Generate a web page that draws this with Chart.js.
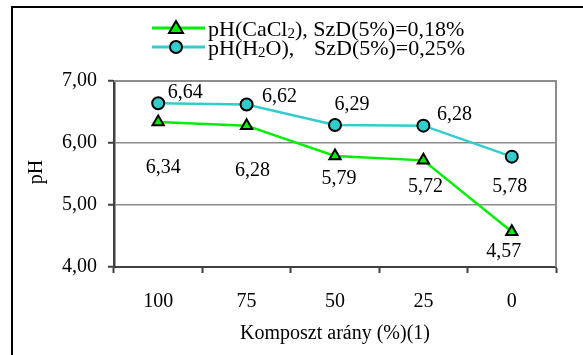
<!DOCTYPE html>
<html>
<head>
<meta charset="utf-8">
<script src="https://cdn.jsdelivr.net/npm/chart.js@4.4.1/dist/chart.umd.min.js"></script>
<style>
    html, body { margin: 0; padding: 0; background: #ffffff; }
    #wrap { width: 583px; height: 355px; position: relative; }
</style>
</head>
<body>
<div id="wrap"><canvas id="chart" width="583" height="355"></canvas></div>
<script>
const categories = ["100", "75", "50", "25", "0"];
const phCaCl2 = [6.34, 6.28, 5.79, 5.72, 4.57];
const phH2O = [6.64, 6.62, 6.29, 6.28, 5.78];
const yTicks = [4, 5, 6, 7];

const serif = "'Liberation Serif', 'Times New Roman', serif";
const green = "#00ee00";
const cyan = "#33cccc";

// label offsets from the point (px)
const labelShift = [
    [[5, 46], [6, 45], [4, 23], [2, 26], [-8, 20]],
    [[27, -11], [33, -8], [17, -20], [31, -11], [-2, 30]],
];

const frameAndLabels = {
    id: "frameAndLabels",
    beforeDraw(chart) {
        const c = chart.ctx;
        c.save();
        c.fillStyle = "#fff";
        c.fillRect(0, 0, chart.width, chart.height);
        // outer frame (left + top)
        c.strokeStyle = "#000";
        c.lineWidth = 2;
        c.beginPath();
        c.moveTo(12, 355);
        c.lineTo(12, 7);
        c.lineTo(583, 7);
        c.stroke();
        c.restore();
    },
    afterDatasetsDraw(chart) {
        const c = chart.ctx;
        const a = chart.chartArea;
        c.save();
        // gray plot frame on the right
        c.strokeStyle = "#8c8c8c";
        c.lineWidth = 2;
        c.beginPath();
        c.moveTo(a.left, a.top);
        c.lineTo(a.right, a.top);
        c.lineTo(a.right, a.bottom);
        c.stroke();

        // value labels
        c.font = "20px " + serif;
        c.fillStyle = "#000";
        c.textAlign = "center";
        c.textBaseline = "middle";
        chart.data.datasets.forEach((ds, di) => {
            chart.getDatasetMeta(di).data.forEach((pt, i) => {
                const s = labelShift[di][i];
                c.fillText(ds.data[i].toFixed(2).replace(".", ","), pt.x + s[0], pt.y + s[1]);
            });
        });

        // y title
        c.save();
        c.translate(37, 172);
        c.rotate(-Math.PI / 2);
        c.fillText("pH", 0, 0);
        c.restore();

        // legend
        const rows = [
            { color: green, style: "triangle", y: 28, a: "pH(CaCl", b: "), SzD(5%)=0,18%", tail: null },
            { color: cyan, style: "circle", y: 47, a: "pH(H", b: "O),", tail: "SzD(5%)=0,25%" },
        ];
        rows.forEach(r => {
            c.strokeStyle = r.color;
            c.lineWidth = 3;
            c.beginPath();
            c.moveTo(152, r.y);
            c.lineTo(205, r.y);
            c.stroke();
            c.fillStyle = r.color;
            c.strokeStyle = "#000";
            c.lineWidth = 2;
            c.beginPath();
            if (r.style === "circle") {
                c.arc(176, r.y, 6, 0, Math.PI * 2);
            } else {
                c.moveTo(176, r.y - 7);
                c.lineTo(183, r.y + 5);
                c.lineTo(169, r.y + 5);
                c.closePath();
            }
            c.fill();
            c.stroke();

            c.fillStyle = "#000";
            c.textAlign = "left";
            c.textBaseline = "alphabetic";
            let x = 208;
            const base = r.y + 8;
            c.font = "22px " + serif;
            c.fillText(r.a, x, base);
            x += c.measureText(r.a).width;
            c.font = "15px " + serif;
            c.fillText("2", x, base + 2);
            x += c.measureText("2").width;
            c.font = "22px " + serif;
            c.fillText(r.b, x, base);
            if (r.tail) c.fillText(r.tail, 314, base);
        });
        c.restore();
    },
};

new Chart(document.getElementById("chart"), {
    type: "line",
    data: {
        labels: categories,
        datasets: [
            {
                label: "pH(CaCl2), SzD(5%)=0,18%",
                data: phCaCl2,
                borderColor: green,
                backgroundColor: green,
                borderWidth: 2.5,
                pointStyle: "triangle",
                pointRadius: 6.5,
                pointBorderColor: "#000",
                pointBorderWidth: 2,
                tension: 0,
            },
            {
                label: "pH(H2O), SzD(5%)=0,25%",
                data: phH2O,
                borderColor: cyan,
                backgroundColor: cyan,
                borderWidth: 2.5,
                pointStyle: "circle",
                pointRadius: 6,
                pointBorderColor: "#000",
                pointBorderWidth: 2,
                tension: 0,
            },
        ],
    },
    plugins: [frameAndLabels],
    options: {
        responsive: false,
        animation: false,
        layout: { padding: { left: 20, right: 27, top: 81, bottom: 9 } },
        plugins: {
            legend: { display: false },
            tooltip: { enabled: false },
        },
        scales: {
            x: {
                offset: true,
                grid: {
                    offset: true,
                    drawOnChartArea: false,
                    drawTicks: true,
                    tickLength: 6,
                    tickColor: "#404040",
                    tickWidth: 2,
                },
                border: { color: "#404040", width: 2 },
                ticks: {
                    color: "#000",
                    font: { family: serif, size: 20 },
                    padding: 17,
                    maxRotation: 0,
                },
                title: {
                    display: true,
                    text: "Komposzt arány (%)(1)",
                    color: "#000",
                    font: { family: serif, size: 20 },
                    padding: { top: 8, bottom: 0 },
                },
                afterFit(scale) { scale.height = 79; },
            },
            y: {
                min: 4,
                max: 7,
                afterBuildTicks(scale) {
                    scale.ticks = yTicks.map(v => ({ value: v }));
                },
                grid: {
                    color: "#8c8c8c",
                    lineWidth: 1.5,
                    tickLength: 6,
                    tickColor: "#404040",
                    tickWidth: 2,
                },
                border: { color: "#404040", width: 2.5 },
                ticks: {
                    color: "#000",
                    font: { family: serif, size: 20 },
                    padding: 11,
                    callback: v => v.toFixed(2).replace(".", ","),
                },
                afterFit(scale) { scale.width = 94; },
            },
        },
    },
});
</script>
</body>
</html>
